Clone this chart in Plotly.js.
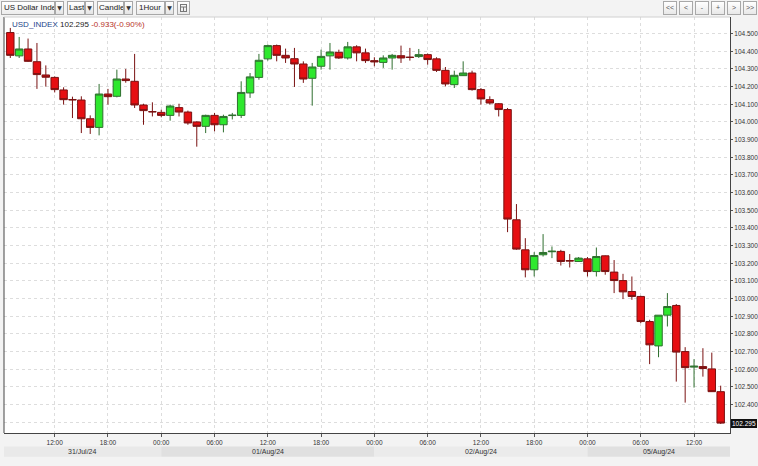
<!DOCTYPE html>
<html>
<head>
<meta charset="utf-8">
<script src="https://cdn.plot.ly/plotly-3.0.1.min.js"></script>
<style>
  html, body { margin:0; padding:0; background:#f3f3f3; }
  #wrap { position:relative; width:758px; height:466px; overflow:hidden; background:#f3f3f3; }
  #chart { position:absolute; left:0; top:0; width:758px; height:466px; }
  .box { position:absolute; top:1px; height:14px; box-sizing:border-box; border:1px solid #a8a8a8;
         background:linear-gradient(#ffffff,#ececec); font-family:"Liberation Sans",Arial,sans-serif;
         font-size:8px; line-height:12px; color:#222; padding-left:2px; white-space:nowrap; overflow:hidden; }
  .arr { position:absolute; top:1px; height:14px; width:9px; box-sizing:border-box; border:1px solid #a8a8a8;
         background:linear-gradient(#ffffff,#e4e4e4); font-family:"DejaVu Sans",sans-serif; font-size:6px;
         line-height:12px; text-align:center; color:#333; }
  .nav { position:absolute; top:1px; height:14px; width:14px; box-sizing:border-box; border:1px solid #a8a8a8;
         background:linear-gradient(#ffffff,#e8e8e8); font-family:"Liberation Sans",Arial,sans-serif; font-size:7px;
         line-height:12px; text-align:center; color:#555; }
</style>
</head>
<body>
<div id="wrap">
  <div id="chart"></div>
  <div class="box" style="left:1px;width:54px;">US Dollar Inde</div><div class="arr" style="left:55px;">▼</div>
  <div class="box" style="left:67px;width:18px;padding-left:1px;">Last</div><div class="arr" style="left:85px;">▼</div>
  <div class="box" style="left:97px;width:27px;padding-left:1px;">Candle</div><div class="arr" style="left:124px;">▼</div>
  <div class="box" style="left:136px;width:29px;">1Hour</div><div class="arr" style="left:165px;">▼</div>
  <div class="nav" style="left:177px;width:13px;">
    <svg width="11" height="12" style="display:block"><g stroke="#777" stroke-width="1" fill="none">
      <rect x="2.5" y="2.5" width="6" height="7"/><line x1="2.5" y1="5" x2="8.5" y2="5"/><line x1="5.5" y1="5" x2="5.5" y2="9.5"/></g></svg>
  </div>
  <div class="nav" style="left:663px;">&lt;&lt;</div>
  <div class="nav" style="left:679px;">&lt;</div>
  <div class="nav" style="left:695px;">-</div>
  <div class="nav" style="left:711px;">+</div>
  <div class="nav" style="left:727px;">&gt;</div>
  <div class="nav" style="left:743px;">&gt;&gt;</div>
</div>
<script>
// ---- data (hourly candles, USD_INDEX) ----
const openVals = [104.506,104.374,104.413,104.341,104.266,104.252,104.181,104.127,104.124,104.018,
  103.969,104.158,104.145,104.243,104.230,104.096,104.059,104.054,104.037,104.081,
  104.056,104.000,103.975,104.037,103.984,104.036,104.037,104.164,104.252,104.357,
  104.432,104.377,104.358,104.328,104.247,104.315,104.374,104.394,104.362,104.425,
  104.391,104.347,104.337,104.362,104.375,104.367,104.370,104.381,104.357,104.292,
  104.211,104.262,104.277,104.183,104.126,104.103,104.070,103.446,103.276,103.163,
  103.248,103.265,103.267,103.215,103.210,103.225,103.153,103.242,103.150,103.102,
  103.040,103.012,102.870,102.732,102.906,102.961,102.700,102.612,102.615,102.602,102.473];
const highVals = [104.532,104.481,104.472,104.447,104.320,104.258,104.196,104.143,104.145,104.037,
  104.215,104.187,104.296,104.300,104.385,104.103,104.111,104.069,104.098,104.103,
  104.064,104.003,104.041,104.051,104.041,104.051,104.230,104.277,104.385,104.438,
  104.438,104.415,104.419,104.343,104.334,104.409,104.447,104.409,104.453,104.434,
  104.415,104.366,104.377,104.385,104.432,104.419,104.413,104.387,104.366,104.311,
  104.290,104.343,104.290,104.192,104.145,104.107,104.079,103.535,103.342,103.263,
  103.365,103.295,103.276,103.252,103.235,103.235,103.289,103.244,103.218,103.140,
  103.125,103.016,102.880,102.906,103.031,102.969,102.725,102.657,102.719,102.694,102.507];
const lowVals = [104.362,104.362,104.340,104.187,104.200,104.167,104.098,104.022,103.937,103.932,
  103.924,104.098,104.139,104.222,104.079,103.984,104.031,104.026,104.007,104.031,
  103.984,103.860,103.937,103.947,103.941,104.014,104.022,104.136,104.239,104.347,
  104.343,104.334,104.198,104.221,104.092,104.296,104.296,104.357,104.353,104.343,
  104.334,104.315,104.306,104.296,104.334,104.347,104.362,104.324,104.283,104.201,
  104.192,104.260,104.177,104.098,104.098,104.031,103.376,103.276,103.120,103.125,
  103.238,103.229,103.187,103.176,103.207,103.125,103.125,103.135,103.031,102.997,
  102.993,102.861,102.629,102.668,102.842,102.530,102.411,102.496,102.558,102.473,102.290];
const closeVals = [104.377,104.413,104.343,104.268,104.253,104.183,104.126,104.125,104.018,103.969,
  104.158,104.143,104.243,104.234,104.096,104.064,104.057,104.037,104.090,104.056,
  103.994,103.975,104.037,103.984,104.031,104.038,104.167,104.255,104.349,104.432,
  104.377,104.362,104.328,104.243,104.311,104.371,104.396,104.362,104.425,104.391,
  104.347,104.340,104.362,104.377,104.362,104.365,104.381,104.353,104.292,104.215,
  104.264,104.277,104.183,104.130,104.107,104.070,103.450,103.280,103.163,103.244,
  103.261,103.268,103.210,103.213,103.229,103.153,103.238,103.153,103.102,103.038,
  103.012,102.870,102.738,102.906,102.955,102.697,102.609,102.617,102.604,102.473,102.295];

// time-axis labels (hour slot index -> label)
const tickSlots = [5,11,17,23,29,35,41,47,53,59,65,71,77];
const tickLabels = ['12:00','18:00','00:00','06:00','12:00','18:00','00:00','06:00','12:00','18:00','00:00','06:00','12:00'];
// date bands: start slot, end slot, label
const dayStarts = [-0.71, 17, 41, 65];
const dayEnds   = [17, 41, 65, 81.05];
const dayLabels = ['31/Jul/24','01/Aug/24','02/Aug/24','05/Aug/24'];
const bandColors = ['#e9e9e9','#e0e0e0','#ebebeb','#e0e0e0'];

const symbolName = 'USD_INDEX';
const lastPrice = '102.295';
const lastValue = 102.295;
const changeText = '-0.933(-0.90%)';

const xIdx = openVals.map((_, i) => i);

const yTicks = [];
for (let v = 1023; v <= 1045; v++) yTicks.push(v / 10);
// the 102.300 label sits under the last-price badge in the reference
const yTickText = yTicks.map(v => (Math.abs(v - 102.3) < 1e-6 ? '' : v.toFixed(3)));

const trace = {
  type: 'candlestick',
  x: xIdx,
  open: openVals, high: highVals, low: lowVals, close: closeVals,
  increasing: { line: { color: '#2f6f2f', width: 1 }, fillcolor: '#2ee82e' },
  decreasing: { line: { color: '#7a1212', width: 1 }, fillcolor: '#e60f12' },
  whiskerwidth: 0,
  hoverinfo: 'skip',
  showlegend: false
};

const shapes = [];
const annotations = [];
for (let i = 0; i < dayLabels.length; i++) {
  shapes.push({ type: 'rect', xref: 'x', yref: 'paper', x0: dayStarts[i], x1: dayEnds[i],
    y0: -0.057, y1: -0.0325, fillcolor: bandColors[i], line: { width: 0 }, layer: 'below' });
  annotations.push({ xref: 'x', yref: 'paper', x: (dayStarts[i] + dayEnds[i]) / 2, y: -0.0448,
    text: dayLabels[i], showarrow: false, xanchor: 'center', yanchor: 'middle',
    font: { family: 'Liberation Sans, Arial, sans-serif', size: 7, color: '#333' } });
}
// frame lines (left dark, top light)
shapes.push({ type: 'line', xref: 'paper', yref: 'paper', x0: 0, x1: 0, y0: 0, y1: 1, line: { color: '#444', width: 1 } });
shapes.push({ type: 'line', xref: 'paper', yref: 'paper', x0: 0, x1: 1, y0: 1, y1: 1, line: { color: '#d0d0d0', width: 1 } });

// header
annotations.push({ xref: 'paper', yref: 'paper', x: 0.008, y: 0.983, xanchor: 'left', yanchor: 'middle', showarrow: false,
  text: '<span style="color:#25468a">' + symbolName + '</span> <span style="color:#222">' + lastPrice + '</span> <span style="color:#b8341f">' + changeText + '</span>',
  font: { family: 'Liberation Sans, Arial, sans-serif', size: 8, color: '#222' } });
// last price badge
annotations.push({ xref: 'paper', yref: 'y', x: 1.002, y: lastValue, xanchor: 'left', yanchor: 'middle', showarrow: false,
  text: lastPrice, bgcolor: '#111', bordercolor: '#111', borderpad: 0,
  font: { family: 'Liberation Sans, Arial, sans-serif', size: 6.5, color: '#fff' } });

const layout = {
  width: 758, height: 466,
  margin: { l: 4, r: 28, t: 17, b: 33, pad: 0 },
  paper_bgcolor: '#f3f3f3',
  plot_bgcolor: '#ffffff',
  showlegend: false,
  hovermode: false,
  boxgap: 0.16, boxgroupgap: 0,
  xaxis: {
    type: 'linear', range: [-0.71, 81.05], fixedrange: true,
    rangeslider: { visible: false },
    tickmode: 'array', tickvals: tickSlots, ticktext: tickLabels,
    ticks: 'outside', ticklen: 3, tickcolor: '#555', tickwidth: 1,
    showline: true, linecolor: '#444', linewidth: 1,
    showgrid: true, gridcolor: '#dddddd', griddash: '3px,3px', gridwidth: 1,
    zeroline: false,
    tickfont: { family: 'Liberation Sans, Arial, sans-serif', size: 6.5, color: '#333' }
  },
  yaxis: {
    side: 'right', range: [102.239, 104.594], fixedrange: true,
    tickmode: 'array', tickvals: yTicks, ticktext: yTickText,
    ticks: 'outside', ticklen: 2, tickcolor: '#555', tickwidth: 1,
    showline: true, linecolor: '#444', linewidth: 1,
    showgrid: true, gridcolor: '#dddddd', griddash: '3px,3px', gridwidth: 1,
    zeroline: false,
    tickfont: { family: 'Liberation Sans Narrow, Liberation Sans, Arial, sans-serif', size: 6.5, color: '#333' }
  },
  shapes: shapes,
  annotations: annotations
};

Plotly.newPlot('chart', [trace], layout, { staticPlot: true, displayModeBar: false });
</script>
</body>
</html>
